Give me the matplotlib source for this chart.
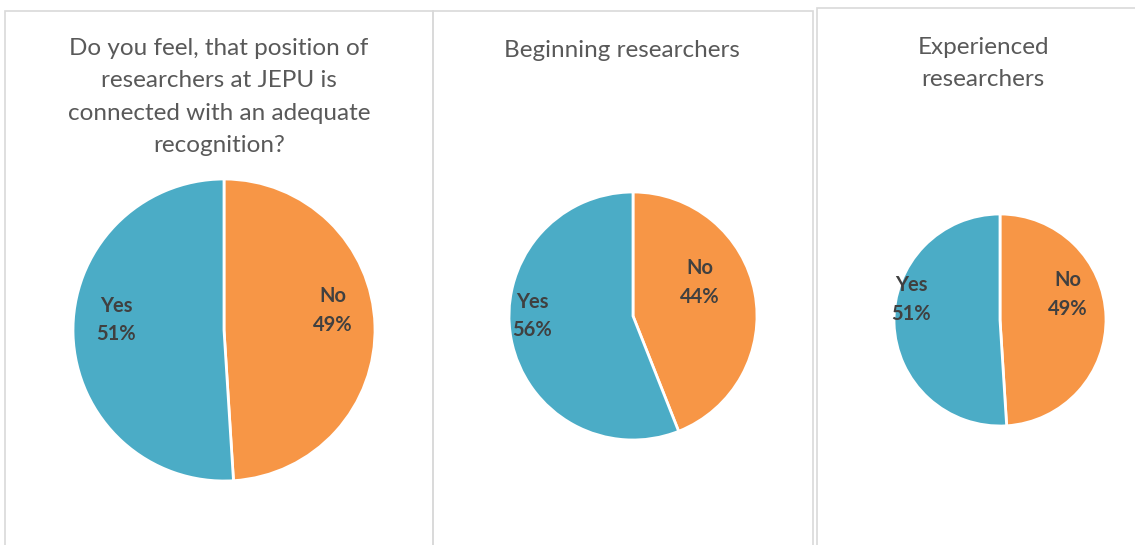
import matplotlib.pyplot as plt
from matplotlib.patches import Rectangle

# survey answers (percent)
categories = ["No", "Yes"]
all_researchers = [49, 51]
beginning = [44, 56]
experienced = [49, 51]
titles = [
    "Do you feel, that position of\nresearchers at JEPU is\nconnected with an adequate\nrecognition?",
    "Beginning researchers",
    "Experienced\nresearchers",
]

colors = ["#F79646", "#4BACC6"]
W, H = 1135, 545

plt.rcParams["font.family"] = ["Lato", "DejaVu Sans"]
fig = plt.figure(figsize=(W / 100, H / 100), dpi=100)

# panel frames (left, top, right) in pixels; they run off the bottom
frames = [(5, 11, 433), (433, 11, 813), (817, 8, 1150)]
for x0, y0, x1 in frames:
    fig.patches.append(Rectangle((x0 / W, -0.1), (x1 - x0) / W, (H - y0) / H + 0.1,
                                 transform=fig.transFigure, fill=False,
                                 edgecolor="#D9D9D9", linewidth=1.2))

# pie centre x, centre y, radius (pixels)
pies = [(224, 330, 151), (633, 316, 124), (1000, 320, 106)]
title_x = [219, 622, 983]
title_y = [38, 40, 37]
# data label placement in radius units (No, Yes), like Excel's best fit
label_pos = [
    [(0.72, 0.13), (-0.715, 0.066)],
    [(0.54, 0.27), (-0.81, 0.0)],
    [(0.64, 0.24), (-0.84, 0.19)],
]
data = [all_researchers, beginning, experienced]

for (cx, cy, r), vals, title, tx, ty, lp in zip(pies, data, titles, title_x, title_y, label_pos):
    ax = fig.add_axes([(cx - r) / W, (H - cy - r) / H, 2 * r / W, 2 * r / H])
    labels = [f"{c}\n{v}%" for c, v in zip(categories, vals)]
    wedges, texts = ax.pie(vals, colors=colors, startangle=90, counterclock=False,
                           labels=labels,
                           wedgeprops=dict(edgecolor="white", linewidth=2),
                           textprops=dict(fontsize=14.5, fontweight="bold", color="#404040",
                                          linespacing=1.55))
    for t, pos in zip(texts, lp):
        t.set_horizontalalignment("center")
        t.set_verticalalignment("center")
        t.set_position(pos)
    ax.set_xlim(-1, 1)
    ax.set_ylim(-1, 1)
    ax.set_aspect("equal")
    fig.text(tx / W, 1 - ty / H, title, ha="center", va="top",
             fontsize=17.5, color="#595959", linespacing=1.67)

fig.savefig("out.png", dpi=100)
